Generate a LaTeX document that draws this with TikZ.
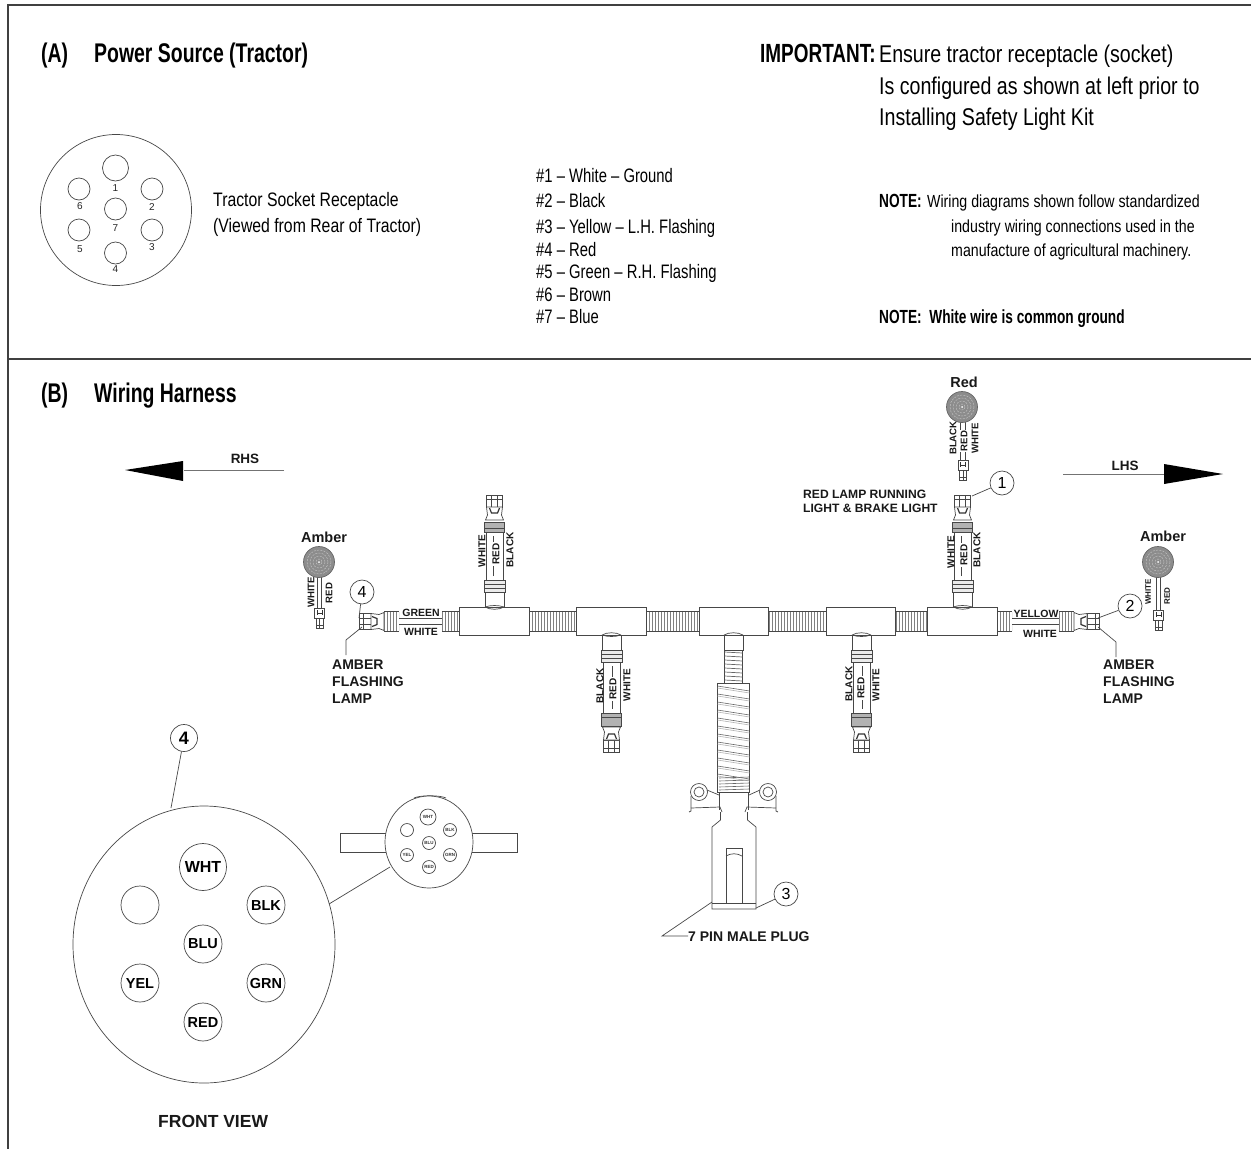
\documentclass[tikz,border=0pt]{standalone}
\usepackage{fontspec}
\setmainfont{Liberation Sans}
\newfontfamily\narrowfont[FakeStretch=0.81]{Liberation Sans}
\newfontfamily\listfont[FakeStretch=0.76]{Liberation Sans}
\newfontfamily\narrowbold[FakeStretch=0.72]{Liberation Sans}
\usetikzlibrary{calc,shapes.geometric}
\tikzset{
  x=1pt,y=-1pt,
  ln/.style={draw=black!72,line width=.7pt},
  frameline/.style={draw=black!75,line width=1.3pt},
  head/.style={anchor=base west,inner sep=0pt,text=black,font=\narrowbold\bfseries\fontsize{27}{27}\selectfont},
  body/.style={anchor=base west,inner sep=0pt,text=black,font=\narrowfont\fontsize{24.2}{25}\selectfont},
  mid/.style={anchor=base west,inner sep=0pt,text=black,font=\narrowfont\fontsize{19.5}{20}\selectfont},
  listitem/.style={anchor=base west,inner sep=0pt,text=black,font=\listfont\fontsize{19.5}{20}\selectfont},
  note/.style={anchor=base west,inner sep=0pt,text=black,font=\narrowfont\fontsize{17.5}{18}\selectfont},
  noteb/.style={anchor=base west,inner sep=0pt,text=black,font=\narrowbold\bfseries\fontsize{19}{19}\selectfont},
  lab/.style={anchor=base west,inner sep=0pt,text=black!90,font=\bfseries\fontsize{14}{14}\selectfont},
  wlab/.style={inner sep=0pt,text=black!90,font=\bfseries\fontsize{10.5}{11}\selectfont},
  vlab/.style={inner sep=0pt,rotate=90,text=black!90,font=\bfseries\fontsize{10}{11}\selectfont},
  vred/.style={vlab,fill=white,inner xsep=1pt,inner ysep=.5pt},
  vsm/.style={inner sep=0pt,rotate=90,text=black!90,font=\bfseries\fontsize{8}{8}\selectfont},
  hole/.style={circle,ln,fill=white,inner sep=0pt,minimum size=#1},
  tbox/.style={rectangle,ln,fill=white,inner sep=0pt,minimum width=69.5pt,minimum height=28pt},
  callout/.style={circle,ln,fill=white,inner sep=0pt,minimum size=24pt,text=black,font=\fontsize{16}{16}\selectfont},
  pinlab/.style={inner sep=0pt,text=black!85,font=\fontsize{10}{10}\selectfont},
  fv/.style={circle,ln,fill=white,inner sep=0pt,minimum size=#1,text=black,font=\bfseries\fontsize{14.5}{15}\selectfont},
  fvs/.style={circle,ln,fill=white,inner sep=0pt,minimum size=#1,text=black!80,font=\bfseries\fontsize{4.5}{5}\selectfont},
}
\newcommand\corrtube[2]{%
  \draw[ln,double=white,double distance=19pt] (#1) -- (#2);
  \draw[draw=black!50,line width=18.5pt,dash pattern=on 1pt off 2pt] (#1) -- (#2);}
% plug pointing local "up", base at origin
\newcommand\plugat[3]{%
  \begin{scope}[shift={(#1,#2)},rotate=#3]
    \draw[ln,fill=white] (-8,-25) rectangle (8,-13);
    \draw[ln] (-3,-25) -- (-3,-13) (3,-25) -- (3,-13) (-8,-21) -- (8,-21);
    \draw[ln,fill=white] (-8,-13) -- (-7,-5) -- (-9,0) -- (9,0) -- (7,-5) -- (8,-13) -- cycle;
    \draw[draw=black!80,line width=1.2pt] (-5,-12) -- (-3,-7) -- (3,-7) -- (5,-12);
  \end{scope}}
% small plug on lamp
\newcommand\smallplug[2]{%
  \begin{scope}[shift={(#1,#2)}]
    \draw[ln,fill=white] (-5,0) rectangle (5,10);
    \draw[draw=black!80,line width=1pt] (-2.5,2) -- (-2.5,7) (2.5,2) -- (2.5,7) (-2.5,5) -- (2.5,5);
    \draw[ln,fill=white] (-3.5,10) rectangle (3.5,20);
    \draw[ln] (0,10) -- (0,20) (-3.5,17) -- (3.5,17);
  \end{scope}}
% tube branch from a box edge
\newcommand\branch[4]{%
  \begin{scope}[shift={(#1,#2)},rotate=#3]
    \draw[ln,fill=white] (-9.5,0) -- (-9.5,-15) -- (9.5,-15) -- (9.5,0);
    \draw[ln] (-9.5,0) .. controls (-4,-2) and (4,-2) .. (9.5,0);
    \draw[ln,fill=black!8] (-10.5,-15) rectangle (10.5,-27);
    \draw[ln] (-10.5,-19) -- (10.5,-19) (-10.5,-23) -- (10.5,-23);
    \draw[ln,fill=white] (-8.5,-27) rectangle (8.5,{-75-#4});
    \draw[ln] (-1,-31) -- (-1,{-71-#4});
    \draw[ln,fill=black!30] (-10,{-75-#4}) rectangle (10,{-85-#4-#4});
    \draw[ln] (-10,{-79-#4}) -- (10,{-79-#4});
  \end{scope}}
\newcommand\lampdisc[1]{%
  \node[circle,draw=black!60,fill=black!45,line width=.7pt,inner sep=0pt,minimum size=31pt] (#1) at (#1c) {};
  \foreach \rr in {12,9,6,3}{\draw[draw=black!25,line width=.5pt,dash pattern=on 2pt off 1.2pt] (#1c) circle (\rr);}
  \fill[white] (#1c) circle (1);}
\begin{document}
\begin{tikzpicture}
\useasboundingbox (0,0) rectangle (1251,1149);
\fill[white] (0,0) rectangle (1251,1149);
% frame
\coordinate (ftl) at (8,5); \coordinate (ftr) at (1251,5); \coordinate (fbl) at (8,1149);
\coordinate (dl) at (8,359); \coordinate (dr) at (1251,359);
\draw[frameline] (fbl) -- (ftl) -- (ftr);
\draw[frameline] (dl) -- (dr);
% section A
\node[head] (ha) at (41,62.5) {(A)};
\node[head] (hatitle) at (94,62.5) {Power Source (Tractor)};
\node[head,font=\narrowbold\bfseries\fontsize{26.3}{27}\selectfont] (imp) at (760,62) {IMPORTANT:};
\node[body] (imp1) at (879,62) {Ensure tractor receptacle (socket)};
\node[body] (imp2) at (879,94) {Is configured as shown at left prior to};
\node[body] (imp3) at (879,125) {Installing Safety Light Kit};
% socket
\node[circle,ln,inner sep=0pt,minimum size=151pt] (sock) at (116,210) {};
\node[hole=26pt] (h1) at (115.5,168) {};
\node[hole=22pt] (h6) at (79,189) {};
\node[hole=22pt] (h2) at (152,189) {};
\node[hole=22pt] (h7) at (115.5,209) {};
\node[hole=22pt] (h5) at (79,230) {};
\node[hole=22pt] (h3) at (152,230) {};
\node[hole=22pt] (h4) at (115.5,253) {};
\node[pinlab] (n1) at (115.5,188) {1};
\node[pinlab] (n6) at (80,206) {6};
\node[pinlab] (n2) at (152,207) {2};
\node[pinlab] (n7) at (115.5,228) {7};
\node[pinlab] (n5) at (80,249) {5};
\node[pinlab] (n3) at (152,247) {3};
\node[pinlab] (n4) at (115.5,269) {4};
\node[mid] (st1) at (213,206) {Tractor Socket Receptacle};
\node[mid] (st2) at (213,232) {(Viewed from Rear of Tractor)};
% list
\node[listitem] (l1) at (536,182) {\#1 – White – Ground};
\node[listitem] (l2) at (536,207) {\#2 – Black};
\node[listitem] (l3) at (536,233) {\#3 – Yellow – L.H. Flashing};
\node[listitem] (l4) at (536,256) {\#4 – Red};
\node[listitem] (l5) at (536,278) {\#5 – Green – R.H. Flashing};
\node[listitem] (l6) at (536,301) {\#6 – Brown};
\node[listitem] (l7) at (536,323) {\#7 – Blue};
% notes
\node[noteb] (nt1) at (879,207) {NOTE:};
\node[note] (nt1a) at (927,207) {Wiring diagrams shown follow standardized};
\node[note] (nt1b) at (951,232) {industry wiring connections used in the};
\node[note] (nt1c) at (951,256) {manufacture of agricultural machinery.};
\node[noteb] (nt2) at (879,323.5) {NOTE:\ \ White wire is common ground};
% section B
\node[head] (hb) at (41,402.5) {(B)};
\node[head] (hbtitle) at (94,402.5) {Wiring Harness};
% direction arrows
\coordinate (ra0) at (284,470); \coordinate (ra1) at (184,470);
\draw[draw=black!55,line width=1pt] (ra0) -- (ra1);
\fill[black] (125,470) -- (183,461) -- (183,481) -- cycle;
\node[wlab,font=\bfseries\fontsize{13.5}{14}\selectfont] (rhs) at (245,459) {RHS};
\coordinate (la0) at (1063,474); \coordinate (la1) at (1164,474);
\draw[draw=black!55,line width=1pt] (la0) -- (la1);
\fill[black] (1223,474) -- (1164,464) -- (1164,484) -- cycle;
\node[wlab,font=\bfseries\fontsize{13.5}{14}\selectfont] (lhs) at (1125,466) {LHS};
% harness boxes
\coordinate (b1p) at (494.5,621); \coordinate (b2p) at (611.5,621);
\coordinate (b3p) at (734,621); \coordinate (b4p) at (861,621); \coordinate (b5p) at (962.5,621);
% stubs
\coordinate (sl1) at (442,621.5); \coordinate (sl2) at (399,621.5); \coordinate (sl3) at (384,621.5);
\coordinate (sr1) at (1012,621.5); \coordinate (sr2) at (1059,621.5); \coordinate (sr3) at (1074,621.5);
\coordinate (e1) at (460,621.5); \coordinate (e2) at (997,621.5);
\coordinate (m1) at (529,621.5); \coordinate (m2) at (577,621.5); \coordinate (m3) at (646,621.5);
\coordinate (m4) at (699,621.5); \coordinate (m5) at (769,621.5); \coordinate (m6) at (826,621.5);
\coordinate (m7) at (896,621.5); \coordinate (m8) at (928,621.5);
\corrtube{sl3}{sl2} \corrtube{sl1}{e1} \corrtube{m1}{m2} \corrtube{m3}{m4}
\corrtube{m5}{m6} \corrtube{m7}{m8} \corrtube{e2}{sr1} \corrtube{sr2}{sr3}
\draw[ln,double=white,double distance=5pt] (sl1) -- (sl2);
\draw[ln,double=white,double distance=5pt] (sr1) -- (sr2);
\plugat{384}{621.5}{90}
\plugat{1074}{621.5}{-90}
\branch{494.5}{607}{0}{0}
\plugat{494.5}{520}{0}
\branch{962.5}{607}{0}{0}
\plugat{962.5}{520}{0}
\branch{611.5}{635}{180}{3}
\plugat{611.5}{727}{180}
\branch{861.5}{635}{180}{3}
\plugat{861.5}{727}{180}
\node[tbox] (b1) at (b1p) {};
\node[tbox] (b2) at (b2p) {};
\node[tbox] (b3) at (b3p) {};
\node[tbox] (b4) at (b4p) {};
\node[tbox] (b5) at (b5p) {};
% redraw tee arcs over boxes
\draw[ln] (485,607) .. controls (490,610) and (499,610) .. (504,607);
\draw[ln] (953.5,607) .. controls (958,610) and (967,610) .. (972,607);
\draw[ln] (602,635) .. controls (607,632) and (616,632) .. (621,635);
\draw[ln] (852,635) .. controls (857,632) and (866,632) .. (871,635);
\draw[ln] (724,635) .. controls (729,632) and (738,632) .. (743,635);
% wire labels
\node[wlab] (wgreen) at (421,613) {GREEN};
\node[wlab] (wwhite1) at (421,632) {WHITE};
\node[wlab] (wyel) at (1036,614) {YELLOW};
\node[wlab] (wwhite2) at (1040,634) {WHITE};
\node[vlab] (v1) at (482,551) {WHITE};
\node[vred] (v2) at (496,554) {RED};
\node[vlab] (v3) at (510,550) {BLACK};
\node[vlab] (v4) at (600,686) {BLACK};
\node[vred] (v5) at (613,689) {RED};
\node[vlab] (v6) at (627,685) {WHITE};
\node[vlab] (v7) at (951,552) {WHITE};
\node[vred] (v8) at (964,555) {RED};
\node[vlab] (v9) at (977,550) {BLACK};
\node[vlab] (v10) at (849,684) {BLACK};
\node[vred] (v11) at (861,688) {RED};
\node[vlab] (v12) at (876,685) {WHITE};
% centre drop and plug
\draw[ln,fill=white] (724,635) rectangle (743,650);
\draw[ln,fill=white] (724.5,650) rectangle (742.5,683);
\foreach \yy in {652,656,660,664,668,672,676,680}{\draw[ln,draw=black!60] (724.5,\yy) -- (742.5,\yy+1);}
\draw[ln,fill=white] (717.5,683) rectangle (749.5,792);
\foreach \yy in {686,694,702,710,718,726,734,742,750,758,766,774}{
  \draw[draw=black!60,line width=.6pt] (717.5,\yy) -- (749.5,\yy+5);
  \draw[draw=black!30,line width=.6pt] (717.5,\yy+2) -- (749.5,\yy+7);}
\foreach \yy in {778,781,784,787,790}{\draw[draw=black!60,line width=.6pt] (719,\yy) -- (749,\yy-1);}
\draw[ln] (719.5,792) -- (719.5,810) (748.5,792) -- (748.5,810);
\draw[ln,fill=white] (720.5,812) -- (720.5,820) -- (712,827) -- (712,909) -- (756,909) -- (756,827) -- (747.5,820) -- (747.5,812);
\draw[ln] (712,903) -- (756,903);
\draw[ln] (726,903) -- (726,848) -- (742,848) -- (742,903);
\draw[ln] (726,856) .. controls (731,853) and (737,853) .. (742,856);
% ears
\node[circle,ln,inner sep=0pt,minimum size=17pt,fill=white] (earl) at (699,792) {};
\node[circle,ln,inner sep=0pt,minimum size=10pt] (earl2) at (earl) {};
\node[circle,ln,inner sep=0pt,minimum size=17pt,fill=white] (earr) at (768,792) {};
\node[circle,ln,inner sep=0pt,minimum size=10pt] (earr2) at (earr) {};
\draw[ln] (691,796) -- (691,811) -- (689,812);
\draw[ln] (691,808) -- (720,807) -- (722,812);
\draw[ln] (776,796) -- (776,811) -- (778,812);
\draw[ln] (776,808) -- (747,807) -- (745,812);
\draw[ln] (707,790) -- (719,795) (760,790) -- (749,795);
% callouts
\node[callout] (c3) at (786,894) {3};
\coordinate (p3a) at (756,908);
\draw[ln] (p3a) -- (c3);
\coordinate (p7a) at (712,902); \coordinate (p7b) at (662,936); \coordinate (p7c) at (688,936);
\draw[ln] (p7a) -- (p7b) -- (p7c);
\node[lab] (pin7) at (688,941) {7 PIN MALE PLUG};
\node[callout] (c1) at (1002,483) {1};
\coordinate (p1a) at (972,496);
\draw[ln] (p1a) -- (c1);
\node[lab,font=\bfseries\fontsize{12.1}{12}\selectfont] (rl1) at (803,498) {RED LAMP RUNNING};
\node[lab,font=\bfseries\fontsize{12.1}{12}\selectfont] (rl2) at (803,512) {LIGHT \& BRAKE LIGHT};
\node[callout] (c2) at (1130,606) {2};
\coordinate (p2a) at (1098,618);
\draw[ln] (p2a) -- (c2);
\coordinate (p2b) at (1098,627); \coordinate (p2c) at (1116,642); \coordinate (p2d) at (1116,657);
\draw[ln] (p2b) -- (p2c) -- (p2d);
\node[lab] (af1) at (1103,669) {AMBER};
\node[lab] (af2) at (1103,686) {FLASHING};
\node[lab] (af3) at (1103,703) {LAMP};
\node[callout] (c4) at (362,592) {4};
\coordinate (p4a) at (359,618);
\draw[ln] (p4a) -- (c4);
\coordinate (p4b) at (362,627); \coordinate (p4c) at (346,640); \coordinate (p4d) at (346,655);
\draw[ln] (p4b) -- (p4c) -- (p4d);
\node[lab] (al1) at (332,669) {AMBER};
\node[lab] (al2) at (332,686) {FLASHING};
\node[lab] (al3) at (332,703) {LAMP};
% lamps
\coordinate (lampac) at (319,562); \coordinate (lampbc) at (962,407); \coordinate (lampcc) at (1158,562);
\coordinate (wa0) at (319.5,577); \coordinate (wa1) at (319.5,608);
\coordinate (wb0) at (963,422); \coordinate (wb1) at (963,460);
\coordinate (wc0) at (1158.5,577); \coordinate (wc1) at (1158.5,610);
\draw[ln,double=white,double distance=3.5pt] (wa0) -- (wa1);
\draw[ln,double=white,double distance=4.5pt] (wb0) -- (wb1);
\draw[ln,double=white,double distance=3.5pt] (wc0) -- (wc1);
\lampdisc{lampa}
\lampdisc{lampb}
\lampdisc{lampc}
\smallplug{319.5}{608}
\smallplug{963}{460}
\smallplug{1158.5}{610}
\node[wlab,font=\bfseries\fontsize{14.5}{15}\selectfont] (ta) at (324,537) {Amber};
\node[wlab,font=\bfseries\fontsize{14.5}{15}\selectfont] (tb) at (964,382) {Red};
\node[wlab,font=\bfseries\fontsize{14.5}{15}\selectfont] (tc) at (1163,536) {Amber};
\node[vlab,font=\bfseries\fontsize{9.6}{10}\selectfont] (va1) at (311,592.5) {WHITE};
\node[vlab,font=\bfseries\fontsize{9.6}{10}\selectfont] (va2) at (329,593) {RED};
\node[vlab,font=\bfseries\fontsize{9.6}{10}\selectfont] (vb1) at (953,438) {BLACK};
\node[vred,font=\bfseries\fontsize{9.6}{10}\selectfont] (vb2) at (964,441) {RED};
\node[vlab,font=\bfseries\fontsize{9.6}{10}\selectfont] (vb3) at (975,438.5) {WHITE};
\node[vsm] (vc1) at (1148,592) {WHITE};
\node[vsm] (vc2) at (1167,596) {RED};
% small front plug
\draw[ln] (386,833) -- (340,833) -- (340,852) -- (386,852);
\draw[ln] (472,833) -- (517,833) -- (517,852) -- (472,852);
\draw[ln] (414,798) .. controls (420,795) and (440,795) .. (446,798);
\node[ellipse,ln,fill=white,inner sep=0pt,minimum width=88pt,minimum height=92pt] (sf) at (429,842) {};
\node[fvs=16pt] (s1) at (428,817) {WHT};
\node[hole=13pt] (s2) at (407,830) {};
\node[fvs=13pt] (s3) at (450,830) {BLK};
\node[fvs=13pt] (s4) at (429,843) {BLU};
\node[fvs=13pt] (s5) at (407,855) {YEL};
\node[fvs=13pt] (s6) at (450,855) {GRN};
\node[fvs=13pt] (s7) at (429,867) {RED};
% large front view
\node[ellipse,ln,fill=white,inner sep=0pt,minimum width=262pt,minimum height=277pt] (bf) at (204,944.5) {};
\node[fv=47pt,font=\bfseries\fontsize{16}{16}\selectfont] (f1) at (203,867) {WHT};
\node[hole=38pt] (f2) at (140,905) {};
\node[fv=38pt] (f3) at (266,905) {BLK};
\node[fv=38pt] (f4) at (203,944) {BLU};
\node[fv=38pt] (f5) at (140,983) {YEL};
\node[fv=38pt] (f6) at (266,983) {GRN};
\node[fv=38pt] (f7) at (203,1022) {RED};
\coordinate (zz1) at (390,867); \coordinate (zz2) at (329,904);
\draw[ln] (zz1) -- (zz2);
\node[callout,minimum size=27pt,font=\bfseries\fontsize{18}{18}\selectfont] (c5) at (184,738) {4};
\coordinate (bft) at (171,808);
\draw[ln] (c5) -- (bft);
\node[lab,font=\bfseries\fontsize{17.5}{18}\selectfont] (fvt) at (158,1127) {FRONT VIEW};
\end{tikzpicture}
\end{document}
